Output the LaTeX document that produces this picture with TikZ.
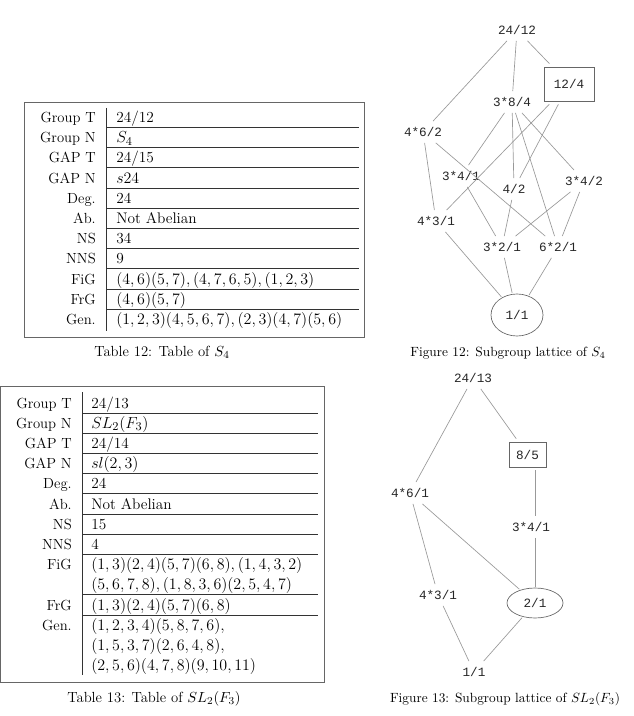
\documentclass[tikz,border=0pt]{standalone}
\usepackage{fontspec}
\newfontfamily\latmono{Liberation Mono}
\usetikzlibrary{shapes.geometric}
\newcommand\mv[1]{{\fontsize{12.2}{14}\selectfont$#1$}}
\begin{document}
\begin{tikzpicture}[x=0.75pt,y=-0.75pt,
  tf/.style={font=\fontsize{11}{13}\selectfont, inner sep=0pt},
  lab/.style={tf, anchor=base east},
  val/.style={font=\fontsize{11.5}{13}\selectfont, inner sep=0pt, anchor=base west},
  captxt/.style={tf, anchor=base},
  figcap/.style={font=\fontsize{10}{12}\selectfont, inner sep=0pt, anchor=base},
  boxline/.style={draw=black!60, line width=0.6pt},
  rowline/.style={draw=black!80, line width=0.6pt},
  lat/.style={font=\latmono\fontsize{9.5}{11}\selectfont, text=black!85, inner sep=4.5pt},
  latbox/.style={lat, draw=black!60, line width=0.5pt, inner sep=0pt, outer sep=2.5pt},
  latell/.style={lat, ellipse, draw=black!60, line width=0.5pt, inner sep=0pt, outer sep=1pt},
  ed/.style={draw=black!40, line width=0.5pt}]
\useasboundingbox (0,0) rectangle (634,716);

% ---------- Table 12 ----------
\draw[boxline] (24,102) rectangle (364,337);
\draw[rowline] (106,108) -- (106,331);
\foreach \l [count=\i from 0] in {Group T,Group N,GAP T,GAP N,Deg.,Ab.,NS,NNS,FiG,FrG,Gen.}
  \node[lab] (ta-l\i) at (96,122.5+20.2*\i) {\l};
\foreach \v [count=\i from 0] in {24/12,{\mv{S_4}},24/15,{\mv{s24}},24,Not Abelian,34,9,
    {\mv{(4,6)(5,7),(4,7,6,5),(1,2,3)}},{\mv{(4,6)(5,7)}},{\mv{(1,2,3)(4,5,6,7),(2,3)(4,7)(5,6)}}}
  \node[val] (ta-v\i) at (116,122.5+20.2*\i) {\v};
\foreach \i in {0,...,9}
  \draw[rowline] (106,127.5+20.2*\i) -- (359,127.5+20.2*\i);
\node[captxt] (capt12) at (162,356) {Table 12: Table of $S_4$};

% ---------- Table 13 ----------
\draw[boxline] (0.6,386) rectangle (324,682);
\draw[rowline] (82,392) -- (82,675);
\foreach \l/\j in {Group T/0,Group N/1,GAP T/2,GAP N/3,Deg./4,Ab./5,NS/6,NNS/7,FiG/8,FrG/10,Gen./11}
  \node[lab] (tb-l\j) at (72,408+20.2*\j) {\l};
\foreach \v [count=\j from 0] in {24/13,{\mv{SL_2(F_3)}},24/14,{\mv{sl(2,3)}},24,Not Abelian,15,4,
    {\mv{(1,3)(2,4)(5,7)(6,8),(1,4,3,2)}},{\mv{(5,6,7,8),(1,8,3,6)(2,5,4,7)}},
    {\mv{(1,3)(2,4)(5,7)(6,8)}},{\mv{(1,2,3,4)(5,8,7,6),}},{\mv{(1,5,3,7)(2,6,4,8),}},
    {\mv{(2,5,6)(4,7,8)(9,10,11)}}}
  \node[val] (tb-v\j) at (91,408+20.2*\j) {\v};
\foreach \j in {0,1,2,3,4,5,6,7,9,10}
  \draw[rowline] (82,413+20.2*\j) -- (318,413+20.2*\j);
\node[captxt] (capt13) at (154,702) {Table 13: Table of $SL_2(F_3)$};

% ---------- Figure 12 ----------
\node[lat] (a2412) at (517,30) {24/12};
\node[latbox, minimum width=37.5pt, minimum height=25.5pt] (a124) at (569,84) {12/4};
\node[lat] (a384) at (512,102) {3*8/4};
\node[lat] (a462) at (423,132) {4*6/2};
\node[lat] (a341) at (461,176) {3*4/1};
\node[lat] (a42) at (514,189) {4/2};
\node[lat] (a342) at (584,181) {3*4/2};
\node[lat] (a431) at (436,221) {4*3/1};
\node[lat] (a321) at (502,247) {3*2/1};
\node[lat] (a621) at (558,247) {6*2/1};
\node[latell, minimum width=39pt, minimum height=31.5pt] (a11) at (517,315) {1/1};
\draw[ed] (a2412) -- (a462);
\draw[ed] (a2412) -- (a384);
\draw[ed] (a2412) -- (a124);
\draw[ed] (a124) -- (a431);
\draw[ed] (a124) -- (a42);
\draw[ed] (a384) -- (a341);
\draw[ed] (a384) -- (a42);
\draw[ed] (a384) -- (a342);
\draw[ed] (a384) -- (a621);
\draw[ed] (a462) -- (a621);
\draw[ed] (a462) -- (a431);
\draw[ed] (a341) -- (a321);
\draw[ed] (a42) -- (a321);
\draw[ed] (a342) -- (a321);
\draw[ed] (a342) -- (a621);
\draw[ed] (a431) -- (a11);
\draw[ed] (a321) -- (a11);
\draw[ed] (a621) -- (a11);
\node[figcap] (capf12) at (508,356) {Figure 12: Subgroup lattice of $S_4$};

% ---------- Figure 13 ----------
\node[lat] (b2413) at (473,378) {24/13};
\node[latbox, minimum width=27.75pt, minimum height=18.75pt] (b85) at (527.5,454.5) {8/5};
\node[lat] (b461) at (410,493) {4*6/1};
\node[lat] (b341) at (531,527) {3*4/1};
\node[lat] (b431) at (438,595) {4*3/1};
\node[latell, minimum width=42pt, minimum height=22.5pt] (b21) at (535,603) {2/1};
\node[lat] (b11) at (474,672) {1/1};
\draw[ed] (b2413) -- (b461);
\draw[ed] (b2413) -- (b85);
\draw[ed] (b85.south -| b21.center) -- (b341.north -| b21.center);
\draw[ed] (b341.south -| b21.center) -- (b21);
\draw[ed] (b461) -- (b431);
\draw[ed] (b461) -- (b21);
\draw[ed] (b431) -- (b11);
\draw[ed] (b21) -- (b11);
\node[figcap] (capf13) at (505,702) {Figure 13: Subgroup lattice of $SL_2(F_3)$};
\end{tikzpicture}
\end{document}
